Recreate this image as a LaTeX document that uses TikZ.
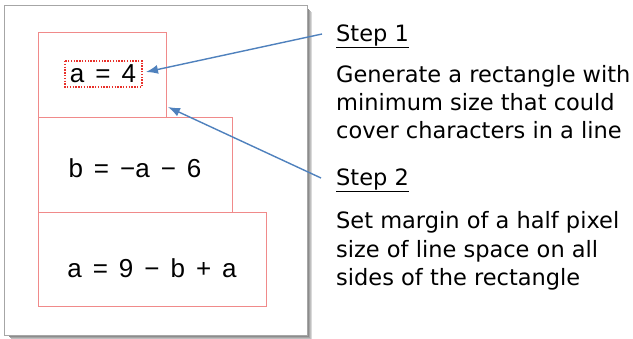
\documentclass[tikz,border=0pt]{standalone}
\usepackage{fontspec}
\setmainfont{DejaVu Sans}
\newfontfamily\formfont{Liberation Sans}
\usetikzlibrary{arrows.meta}
\definecolor{boxred}{HTML}{F08A8A}
\definecolor{dotred}{HTML}{E8302A}
\definecolor{arrblue}{HTML}{4F81BD}
\definecolor{frame}{HTML}{A6A6A6}
\newcommand{\fsp}{\hspace{11pt}}
\tikzset{
  redbox/.style={draw=boxred, line width=0.8pt},
  formula/.style={font=\formfont\fontsize{26}{30}\selectfont, inner sep=0pt},
  desc/.style={font=\fontsize{22.5}{28}\selectfont, anchor=base west, inner sep=0pt},
  steplbl/.style={font=\fontsize{22.5}{28}\selectfont, anchor=base west, inner sep=0pt},
  pointer/.style={draw=arrblue, line width=1.4pt, -{Latex[length=12pt,width=9pt]}},
  dotbox/.style={draw=dotred, line width=1.4pt, dash pattern=on 1.4pt off 1.4pt},
}
\begin{document}
\begin{tikzpicture}[x=1pt,y=-1pt]
\useasboundingbox (0,0) rectangle (633,338);
% shadow
\foreach \i/\c in {1/45,2/35,3/25,4/15}{
  \draw[black!\c, line width=1pt] (307+\i,8+\i) -- (307+\i,335+\i) -- (8+\i,335+\i);
}
\draw[frame, fill=white, line width=1pt] (4,5) rectangle (307,335);
% red boxes
\draw[redbox] (38,212) rectangle (266,306);
\draw[redbox] (38,117) rectangle (232,212);
\draw[redbox] (38,32) rectangle (166,117);
% formulas
\node[formula] (f1) at (103,74) {a\fsp=\fsp4};
\draw[dotbox] (65,61) rectangle (142,87);
\node[formula] (f2) at (135,168) {b\fsp=\fsp−a\fsp−\fsp6};
\node[formula] (f3) at (152,268) {a\fsp=\fsp9\fsp−\fsp b\fsp+\fsp a};
% right text
\node[steplbl] (s1) at (336,41) {\underline{Step 1}};
\node[desc] (d1a) at (336,82) {Generate a rectangle with};
\node[desc] (d1b) at (336,110) {minimum size that could};
\node[desc] (d1c) at (336,138) {cover characters in a line};
\node[steplbl] (s2) at (336,185) {\underline{Step 2}};
\node[desc] (d2a) at (336,228) {Set margin of a half pixel};
\node[desc] (d2b) at (336,257) {size of line space on all};
\node[desc] (d2c) at (336,285) {sides of the rectangle};
% arrows
\coordinate (a1s) at (322,34);
\coordinate (a1e) at (146,72);
\coordinate (a2s) at (321,178);
\coordinate (a2e) at (168,107);
\draw[pointer] (a1s) -- (a1e);
\draw[pointer] (a2s) -- (a2e);
\end{tikzpicture}
\end{document}
